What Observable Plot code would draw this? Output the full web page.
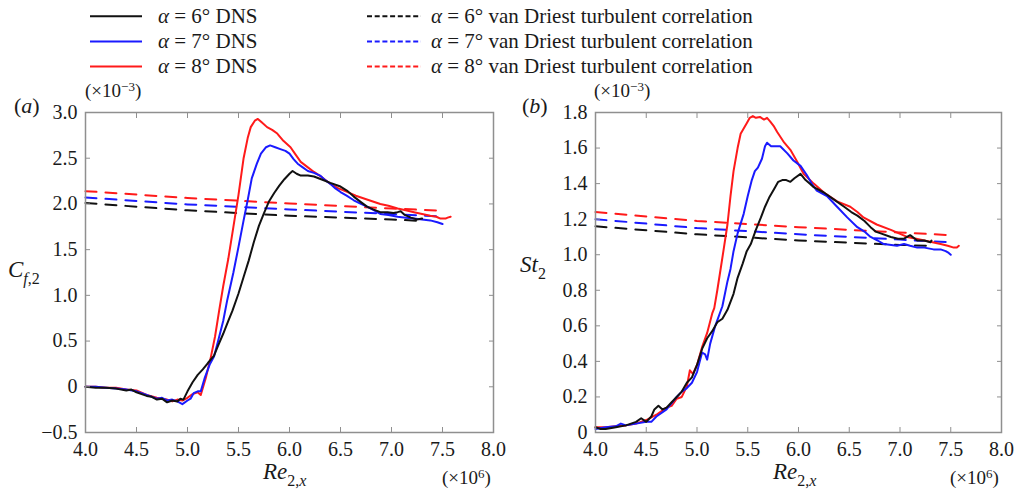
<!DOCTYPE html>
<html><head><meta charset="utf-8">
<script src="https://cdn.jsdelivr.net/npm/d3@7"></script>
<script src="https://cdn.jsdelivr.net/npm/@observablehq/plot@0.6"></script>
<style>
html,body{margin:0;padding:0;background:#fff;}
#wrap{position:relative;width:1019px;height:494px;overflow:hidden;font-family:"Liberation Serif","Times New Roman",serif;}
#wrap svg.panel{position:absolute;top:90px;}
#overlay{position:absolute;left:0;top:0;pointer-events:none;}
</style></head><body><div id="wrap"></div>
<script>
// ---------- data (x in 1e6, y in 1e-3) ----------
const xTicks = [4.0, 4.5, 5.0, 5.5, 6.0, 6.5, 7.0, 7.5, 8.0];
const cfTicks = [-0.5, 0, 0.5, 1.0, 1.5, 2.0, 2.5, 3.0];
const stTicks = [0, 0.2, 0.4, 0.6, 0.8, 1.0, 1.2, 1.4, 1.6, 1.8];
const alphas = [6, 7, 8];

const cfDns6 = [[4.00,0.00],[4.10,-0.01],[4.20,-0.01],[4.30,-0.02],[4.40,-0.04],[4.45,-0.03],[4.50,-0.06],[4.55,-0.08],[4.60,-0.10],[4.65,-0.11],[4.70,-0.14],[4.75,-0.13],[4.80,-0.17],[4.85,-0.15],[4.90,-0.16],[4.93,-0.13],[4.96,-0.14],[5.00,-0.05],[5.05,0.05],[5.10,0.13],[5.15,0.19],[5.20,0.26],[5.26,0.34],[5.30,0.45],[5.35,0.58],[5.40,0.72],[5.44,0.83],[5.50,1.02],[5.55,1.20],[5.60,1.38],[5.65,1.58],[5.70,1.76],[5.75,1.90],[5.80,2.03],[5.85,2.12],[5.90,2.20],[5.95,2.27],[6.00,2.33],[6.03,2.36],[6.07,2.33],[6.11,2.31],[6.18,2.31],[6.24,2.30],[6.31,2.27],[6.40,2.23],[6.50,2.19],[6.57,2.14],[6.63,2.08],[6.70,2.02],[6.76,1.97],[6.82,1.94],[6.89,1.91],[6.96,1.91],[7.02,1.90],[7.06,1.91],[7.09,1.92],[7.13,1.88],[7.19,1.85],[7.25,1.83],[7.30,1.84]];
const cfDns7 = [[4.00,0.00],[4.10,0.00],[4.20,-0.01],[4.30,-0.02],[4.40,-0.03],[4.50,-0.05],[4.60,-0.09],[4.70,-0.13],[4.75,-0.12],[4.80,-0.15],[4.85,-0.14],[4.90,-0.16],[4.95,-0.19],[5.00,-0.15],[5.03,-0.13],[5.06,-0.07],[5.10,-0.05],[5.13,-0.05],[5.17,0.10],[5.22,0.25],[5.26,0.33],[5.30,0.50],[5.35,0.72],[5.39,0.95],[5.45,1.25],[5.50,1.53],[5.55,1.82],[5.59,2.04],[5.63,2.28],[5.68,2.44],[5.72,2.55],[5.77,2.62],[5.81,2.64],[5.86,2.62],[5.91,2.60],[5.96,2.58],[6.00,2.55],[6.04,2.49],[6.08,2.44],[6.13,2.40],[6.18,2.36],[6.24,2.34],[6.30,2.31],[6.35,2.26],[6.40,2.22],[6.45,2.17],[6.50,2.13],[6.56,2.09],[6.63,2.04],[6.70,2.00],[6.76,1.97],[6.83,1.93],[6.89,1.89],[6.97,1.88],[7.06,1.86],[7.14,1.85],[7.22,1.84],[7.30,1.83],[7.38,1.82],[7.45,1.80],[7.50,1.78]];
const cfDns8 = [[4.00,0.00],[4.10,0.00],[4.20,-0.01],[4.30,-0.01],[4.40,-0.03],[4.50,-0.04],[4.60,-0.09],[4.70,-0.12],[4.75,-0.13],[4.80,-0.14],[4.85,-0.16],[4.90,-0.14],[4.95,-0.15],[5.00,-0.12],[5.05,-0.08],[5.10,-0.06],[5.13,-0.09],[5.18,0.10],[5.23,0.33],[5.27,0.55],[5.31,0.83],[5.35,1.10],[5.40,1.40],[5.45,1.75],[5.50,2.10],[5.55,2.50],[5.59,2.72],[5.62,2.84],[5.66,2.91],[5.69,2.93],[5.73,2.89],[5.78,2.84],[5.83,2.81],[5.88,2.77],[5.94,2.69],[6.01,2.62],[6.06,2.54],[6.11,2.46],[6.18,2.40],[6.24,2.35],[6.32,2.29],[6.40,2.22],[6.48,2.17],[6.57,2.13],[6.65,2.09],[6.73,2.06],[6.81,2.03],[6.89,2.00],[6.97,1.98],[7.06,1.95],[7.14,1.93],[7.22,1.91],[7.30,1.89],[7.38,1.87],[7.44,1.86],[7.48,1.84],[7.53,1.84],[7.55,1.85],[7.58,1.86]];
const cfVd6 = [[4.0,2.01],[5.0,1.93],[6.0,1.87],[7.0,1.83],[7.28,1.815]];
const cfVd7 = [[4.0,2.07],[5.0,1.995],[6.0,1.94],[7.0,1.89],[7.45,1.865]];
const cfVd8 = [[4.0,2.14],[5.0,2.065],[6.0,2.005],[7.0,1.95],[7.5,1.925]];

const stDns6 = [[4.00,0.03],[4.05,0.02],[4.10,0.02],[4.20,0.03],[4.30,0.04],[4.40,0.06],[4.45,0.08],[4.50,0.06],[4.55,0.09],[4.58,0.13],[4.62,0.15],[4.66,0.13],[4.70,0.14],[4.75,0.17],[4.80,0.20],[4.85,0.23],[4.90,0.28],[4.95,0.31],[5.00,0.38],[5.05,0.47],[5.10,0.53],[5.15,0.57],[5.20,0.62],[5.25,0.64],[5.30,0.69],[5.36,0.78],[5.40,0.87],[5.45,0.95],[5.49,1.02],[5.53,1.06],[5.58,1.14],[5.63,1.21],[5.67,1.27],[5.71,1.32],[5.76,1.37],[5.80,1.41],[5.84,1.42],[5.88,1.42],[5.92,1.41],[5.96,1.43],[6.02,1.455],[6.07,1.42],[6.11,1.40],[6.15,1.38],[6.25,1.35],[6.35,1.31],[6.45,1.27],[6.52,1.24],[6.58,1.22],[6.65,1.19],[6.71,1.155],[6.76,1.13],[6.81,1.12],[6.91,1.10],[6.98,1.09],[7.04,1.09],[7.10,1.11],[7.17,1.08],[7.24,1.08],[7.30,1.07],[7.31,1.08]];
const stDns7 = [[4.00,0.02],[4.10,0.03],[4.20,0.035],[4.25,0.05],[4.30,0.04],[4.40,0.05],[4.50,0.06],[4.55,0.06],[4.60,0.09],[4.70,0.13],[4.80,0.20],[4.85,0.23],[4.90,0.25],[4.95,0.28],[5.00,0.34],[5.05,0.45],[5.08,0.44],[5.10,0.41],[5.13,0.50],[5.18,0.60],[5.25,0.71],[5.30,0.85],[5.33,0.92],[5.36,1.02],[5.40,1.12],[5.46,1.23],[5.50,1.33],[5.54,1.42],[5.57,1.47],[5.60,1.49],[5.64,1.54],[5.67,1.61],[5.69,1.63],[5.73,1.61],[5.76,1.61],[5.82,1.61],[5.89,1.57],[5.95,1.53],[6.02,1.50],[6.08,1.45],[6.13,1.40],[6.18,1.36],[6.28,1.33],[6.38,1.27],[6.48,1.21],[6.58,1.155],[6.65,1.13],[6.71,1.10],[6.78,1.08],[6.84,1.06],[6.97,1.05],[7.04,1.06],[7.10,1.05],[7.17,1.04],[7.24,1.04],[7.33,1.03],[7.40,1.03],[7.45,1.02],[7.48,1.01],[7.50,1.00]];
const stDns8 = [[4.00,0.03],[4.10,0.03],[4.20,0.035],[4.30,0.04],[4.40,0.05],[4.50,0.07],[4.60,0.10],[4.70,0.14],[4.75,0.15],[4.80,0.19],[4.85,0.20],[4.90,0.26],[4.93,0.35],[4.96,0.33],[5.00,0.38],[5.05,0.48],[5.10,0.56],[5.15,0.67],[5.17,0.70],[5.20,0.80],[5.23,0.91],[5.26,1.02],[5.30,1.17],[5.33,1.33],[5.36,1.47],[5.40,1.60],[5.43,1.68],[5.46,1.71],[5.49,1.74],[5.52,1.77],[5.55,1.78],[5.58,1.77],[5.62,1.775],[5.66,1.76],[5.69,1.77],[5.72,1.75],[5.76,1.72],[5.79,1.69],[5.86,1.63],[5.92,1.59],[5.99,1.52],[6.05,1.455],[6.15,1.40],[6.25,1.35],[6.38,1.30],[6.51,1.27],[6.58,1.24],[6.64,1.21],[6.77,1.17],[6.91,1.14],[6.99,1.12],[7.07,1.10],[7.16,1.09],[7.24,1.08],[7.32,1.07],[7.40,1.06],[7.47,1.05],[7.53,1.04],[7.56,1.04],[7.58,1.05]];
const stVd6 = [[4.0,1.16],[5.0,1.115],[6.0,1.08],[7.0,1.055],[7.3,1.05]];
const stVd7 = [[4.0,1.20],[5.0,1.15],[6.0,1.115],[7.0,1.085],[7.5,1.07]];
const stVd8 = [[4.0,1.24],[5.0,1.19],[6.0,1.155],[7.0,1.125],[7.5,1.11]];

// ---------- styling ----------
const serif = '"Liberation Serif", "Times New Roman", serif';
const colors = {6: "#111111", 7: "#1a1aff", 8: "#ff1a1a"};
const frameColor = "#8f8f8f";
const fmt = d => d === 0 ? "0" : (d < 0 ? "\u2212" : "") + Math.abs(d).toFixed(1);
const toRows = (pairs, alpha) => pairs.map(([x, y]) => ({x, y, alpha}));

function panel({dns, vd, yDomain, yTicks, width, marginRight}) {
  const order = [8, 7, 6];
  const marks = [];
  for (const a of order) marks.push(Plot.line(toRows(vd[a], a), {x: "x", y: "y", stroke: colors[a], strokeWidth: 2, strokeDasharray: "11,9"}));
  for (const a of order) marks.push(Plot.line(toRows(dns[a], a), {x: "x", y: "y", stroke: colors[a], strokeWidth: 2, strokeLinejoin: "round"}));
  marks.push(Plot.frame({stroke: frameColor, strokeWidth: 1.5}));
  const txt = {fontFamily: serif, fontSize: 20, fill: "#1a1a1a"};
  marks.push(Plot.axisX(xTicks, {anchor: "bottom", tickSize: -5, tickPadding: 14, tickFormat: d => d.toFixed(1), stroke: frameColor, label: null, ...txt}));
  marks.push(Plot.axisX(xTicks, {anchor: "top", tickSize: -5, tickFormat: () => "", stroke: frameColor, label: null}));
  marks.push(Plot.axisY(yTicks, {anchor: "left", tickSize: -5, tickPadding: 13, tickFormat: fmt, stroke: frameColor, label: null, ...txt}));
  marks.push(Plot.axisY(yTicks, {anchor: "right", tickSize: -5, tickFormat: () => "", stroke: frameColor, label: null}));
  const svg = Plot.plot({
    width, height: 404,
    marginLeft: 85, marginRight, marginTop: 22, marginBottom: 62,
    style: {fontFamily: serif, fontSize: "20px", background: "transparent", overflow: "visible"},
    x: {domain: [4, 8]},
    y: {domain: yDomain},
    marks
  });
  svg.classList.add("panel");
  return svg;
}

const wrap = document.getElementById("wrap");
const pa = panel({dns: {6: cfDns6, 7: cfDns7, 8: cfDns8}, vd: {6: cfVd6, 7: cfVd7, 8: cfVd8}, yDomain: [-0.5, 3.0], yTicks: cfTicks, width: 510, marginRight: 17});
pa.style.left = "0px";
const pb = panel({dns: {6: stDns6, 7: stDns7, 8: stDns8}, vd: {6: stVd6, 7: stVd7, 8: stVd8}, yDomain: [0, 1.8], yTicks: stTicks, width: 509, marginRight: 18});
pb.style.left = "510px";
wrap.appendChild(pa);
wrap.appendChild(pb);

// ---------- labels & legend overlay ----------
const ov = d3.select(wrap).append("svg").attr("id", "overlay").attr("width", 1019).attr("height", 494)
  .attr("font-family", serif).attr("fill", "#1a1a1a");

alphas.forEach((a, i) => {
  const y = 16.2 + 25.2 * i;
  ov.append("line").attr("x1", 90).attr("x2", 142).attr("y1", y).attr("y2", y).attr("stroke", colors[a]).attr("stroke-width", 2);
  const t1 = ov.append("text").attr("x", 158).attr("y", y + 6.5).attr("font-size", 21);
  t1.append("tspan").attr("font-style", "italic").text("α");
  t1.append("tspan").text(` = ${a}° DNS`);
  ov.append("line").attr("x1", 367).attr("x2", 421).attr("y1", y).attr("y2", y).attr("stroke", colors[a]).attr("stroke-width", 2).attr("stroke-dasharray", "5,2.7");
  const t2 = ov.append("text").attr("x", 431).attr("y", y + 6.5).attr("font-size", 21);
  t2.append("tspan").attr("font-style", "italic").text("α");
  t2.append("tspan").text(` = ${a}° van Driest turbulent correlation`);
});

function panelLabel(x, letter) {
  const t = ov.append("text").attr("x", x).attr("y", 113).attr("font-size", 22);
  t.append("tspan").text("(");
  t.append("tspan").attr("font-style", "italic").text(letter);
  t.append("tspan").text(")");
}
function power(x, y, exp) {
  const t = ov.append("text").attr("x", x).attr("y", y).attr("font-size", 19);
  t.append("tspan").text("(×10");
  t.append("tspan").attr("font-size", 13).attr("dy", -6).text(exp);
  t.append("tspan").attr("dy", 6).text(")");
}
panelLabel(14, "a");
panelLabel(522, "b");
power(85, 97, "\u22123");
power(594, 97, "\u22123");
power(442, 484, "6");
power(950, 484, "6");

// y labels
{
  const t = ov.append("text").attr("x", 8).attr("y", 277).attr("font-size", 23);
  t.append("tspan").attr("font-style", "italic").text("C");
  t.append("tspan").attr("font-size", 16).attr("dy", 7).attr("font-style", "italic").text("f");
  t.append("tspan").attr("font-size", 16).text(",2");
}
{
  const t = ov.append("text").attr("x", 520).attr("y", 272).attr("font-size", 23);
  t.append("tspan").attr("font-style", "italic").text("St");
  t.append("tspan").attr("font-size", 16).attr("dy", 7).text("2");
}
// x labels
for (const x0 of [263, 773]) {
  const t = ov.append("text").attr("x", x0).attr("y", 479).attr("font-size", 23);
  t.append("tspan").attr("font-style", "italic").text("Re");
  t.append("tspan").attr("font-size", 16).attr("dy", 7).text("2,");
  t.append("tspan").attr("font-size", 16).attr("font-style", "italic").text("x");
}
</script></body></html>
